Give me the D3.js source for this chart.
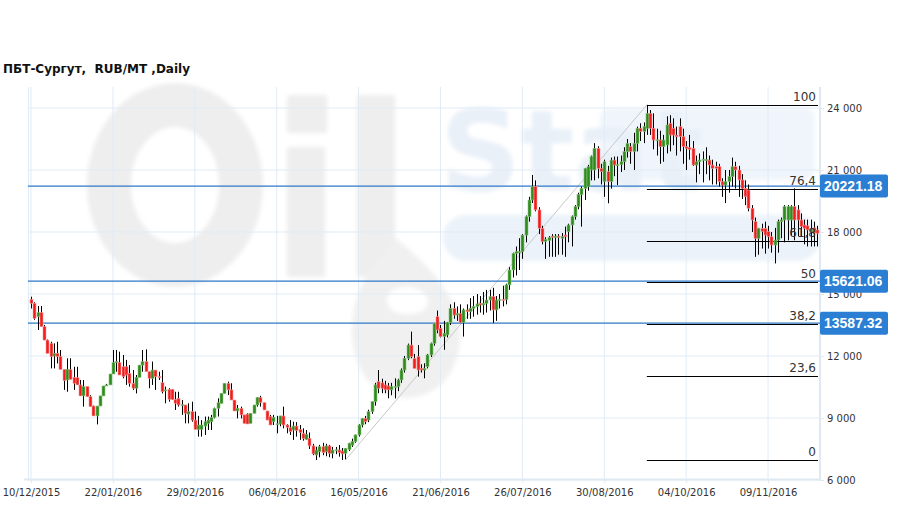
<!DOCTYPE html>
<html>
<head>
<meta charset="utf-8">
<script src="https://cdn.jsdelivr.net/npm/d3@7/dist/d3.min.js"></script>
<style>
  html, body { margin: 0; padding: 0; background: #fff; }
  svg { display: block; }
</style>
</head>
<body>
<svg id="chart" width="909" height="509"></svg>
<script>
// ---------------- DATA ----------------
const title = "ПБТ-Сургут,  RUB/MT ,Daily";

const openVals = [
14740,14550,13900,14100,13420,12770,12610,12000,12130,11970,
11350,10840,11350,10970,10950,10600,10070,10520,10030,9580,
9100,9580,10070,10550,10600,11130,11680,11680,11480,11480,
11160,10680,10440,10970,11560,11730,11240,10920,11320,11000,
10710,10320,10390,10390,9900,9950,9630,9630,9190,9310,
8900,8450,8450,8610,8740,8820,9030,9470,9710,10190,
10680,10360,9870,9340,9470,9150,9190,8740,9230,9630,
10000,9740,9340,9070,8820,8710,8710,9100,8660,8530,
8420,8610,8450,8260,7970,8020,7650,7210,7370,7610,
7370,7650,7290,7450,7450,7400,7290,7480,7690,7860,
8180,8660,8980,8900,9310,9790,10760,10700,10600,10550,
10360,10500,10520,10840,11320,11890,12530,11890,11970,11400,
11320,11480,12050,12610,13900,13340,12940,13020,13610,14300,
13980,14060,13610,14230,14150,14310,14390,14550,14470,14550,
14710,14870,14230,14720,14740,14740,15440,16160,16970,17000,
17050,17850,18740,19550,20200,19070,18180,17550,17600,17800,
17740,17800,17700,17850,18020,18340,18740,19230,19800,20110,
20200,21000,21000,22050,21080,20440,20920,20440,21480,21240,
21260,21400,21890,22130,21890,22290,23020,22860,23020,23740,
23020,22450,22450,22130,22210,23260,23020,22690,23100,22610,
22130,22080,22050,21240,21400,21490,21480,21480,21240,21160,
21160,20440,20270,20440,20680,21160,21000,20520,20110,20030,
19150,18500,17690,18180,18180,18020,17770,17370,17610,18500,
18580,18580,18580,19230,19070,18580,18340,18300,18000,18200,
18100];

const highVals = [
14870,14600,14420,14420,13500,12800,12690,12610,12690,12290,
11350,11890,11890,11480,11480,10840,10840,10520,10100,9600,
9580,10070,10550,10650,11130,12290,12290,12210,12050,11810,
11560,11320,11080,11560,12290,12320,11240,11730,11320,11240,
11320,10520,10440,10390,10270,10270,9870,9630,9710,9790,
9310,9100,8900,9070,9070,9150,9500,9950,10190,10680,
10760,10680,9870,9630,9550,9150,9230,9230,9630,10000,
10070,9740,9340,9150,9150,9100,9100,9550,8700,8900,
8820,8800,8660,8500,8420,8300,7750,7610,7700,7800,
7750,7700,7600,7600,7690,7550,7550,7800,8000,8200,
8700,9000,9100,9400,9800,10700,11320,10900,10800,10700,
10700,10920,10900,11400,12000,12600,13180,12100,12530,11600,
11650,12100,12650,13600,14200,13500,13700,13650,14500,14600,
14400,14500,14300,14500,14800,14900,15000,14900,15100,15200,
15200,15300,14900,15000,15400,15500,16300,17000,17300,17700,
17900,18800,19700,20760,20500,19200,18300,17750,17800,17900,
17900,17900,17950,18260,18400,18800,19300,19900,20200,21100,
21250,21700,22300,22150,21300,21500,21200,21600,21650,21650,
21700,22100,22500,22300,22800,23100,23260,23300,24150,23900,
23740,23000,22900,22700,23600,23650,23500,23100,23500,23000,
22400,22700,22400,21700,21800,21900,22100,21700,21500,21400,
21300,20600,21000,21000,21600,21400,21200,20800,20500,20300,
19300,18700,18200,18400,18500,18300,18000,18200,18600,18700,
19300,19300,19300,20110,19300,18900,18600,18600,18600,18500,
18300];

const lowVals = [
14300,13750,13260,13420,12770,12130,11400,11400,11640,11350,
10360,10270,10870,10360,10600,10070,9550,10030,9550,9100,
8690,9580,10070,10550,10600,11130,11240,11080,10920,10600,
10520,10360,10190,10970,11240,11240,10440,10600,10360,10840,
10190,9710,9790,9870,9390,9550,9150,8740,8740,8820,
8450,8100,8100,8180,8420,8420,8980,9070,9710,10190,
10110,9870,9340,8980,8980,8740,8710,8740,9230,9550,
9550,9390,8900,8660,8660,8260,8600,8500,8260,8180,
7940,8100,7940,7900,7940,7500,7200,6970,7100,7200,
7150,7100,7050,7250,7130,6970,7000,7400,7600,7800,
8100,8550,8700,8800,9200,9600,10200,10200,10200,9950,
10100,9950,10300,10700,11200,11800,11890,11400,11000,11200,
10920,11400,11950,12500,13100,12900,12300,12900,13500,13800,
13700,13600,12940,13800,13800,13900,14000,14100,14000,14100,
14200,13600,13700,14300,14400,14500,15200,15800,15900,16160,
16700,17500,18500,19400,19000,17900,17400,16700,16800,16800,
16800,16900,16900,16800,17500,17300,18600,19100,18260,19550,
20000,20500,20500,20600,20300,19700,19390,20100,20700,20270,
20900,21000,21600,21300,21000,21900,22400,22300,22700,22700,
22000,21700,21300,21400,21800,21900,22200,21700,21900,21300,
21000,21500,21200,20400,20800,20400,20800,20500,20300,20300,
20200,19700,19400,19900,20200,20100,19700,19600,19300,19000,
18000,16800,16900,17200,16950,17200,17000,16480,17000,17700,
17500,17600,17800,17600,17800,17800,17400,17300,17300,17300,
17300];

const closeVals = [
14550,13820,14100,13420,12770,12130,11970,12130,11970,11350,
10810,11360,10870,10680,10600,10070,10520,10030,9550,9100,
9580,10070,10550,10600,11130,11680,11730,11080,11000,11080,
10680,10440,10970,11560,11730,11240,10920,11320,11000,10970,
10270,10360,9900,9900,9710,9630,9650,9230,9310,8900,
8450,8660,8660,8820,8900,9030,9470,9740,10190,10680,
10360,9870,9340,9470,9150,8740,8710,9230,9630,10000,
9740,9390,8900,8660,9030,8720,9100,8660,8550,8340,
8610,8390,8290,8000,8210,7650,7260,7450,7610,7320,
7650,7290,7450,7460,7320,7260,7530,7780,7860,8180,
8660,8980,8820,9310,9790,10600,10440,10440,10360,10360,
10520,10530,10840,11320,11890,12530,11970,11400,11320,11320,
11400,12050,12610,13580,13260,12940,13100,13610,14300,13980,
14060,13610,14230,14150,14310,14390,14520,14470,14550,14710,
14870,14230,14710,14740,14730,15440,16160,16970,17050,17050,
17850,18740,19550,20200,19070,18180,17540,17650,17740,17740,
17800,17740,17780,17770,18340,18740,19230,19820,20110,21080,
21160,21650,22050,21080,20920,21400,20440,21480,21240,21260,
21400,21890,22290,21890,22290,23020,22860,23100,23740,23020,
22450,22460,22130,22450,23180,22690,22690,22610,22610,22130,
22050,22000,21240,21400,21480,21520,21500,21240,21080,21080,
20440,20270,20440,20680,21160,21000,20520,20110,19710,19150,
18580,17690,18180,18020,17850,17770,17370,17610,18500,18580,
19230,19230,19230,18580,18580,18260,18180,18100,18150,17950,
17940];

const tickIndex  = [0, 25, 50, 75, 100, 125, 150, 175, 200, 225];
const tickLabels = ["10/12/2015","22/01/2016","29/02/2016","06/04/2016","16/05/2016",
                    "21/06/2016","26/07/2016","30/08/2016","04/10/2016","09/11/2016"];
const yTicks = [6000, 9000, 12000, 15000, 18000, 21000, 24000];

const levelValues = [20221.18, 15621.06, 13587.32];
const fibRatios = [100, 76.4, 61.8, 50, 38.2, 23.6, 0];
const fibLabels = ["100", "76,4", "61,8", "50", "38,2", "23,6", "0"];
const fibLowIndex = 96, fibHighIndex = 188;

// ---------------- CHART ----------------
const svg = d3.select("#chart");
const W = 909, H = 509;
const plot = { left: 28, right: 820, top: 87, bottom: 480 };

const x = d3.scaleLinear().domain([0, openVals.length - 1]).range([31, 817.2]);
const y = d3.scaleLinear().domain([6000, 24000]).range([480, 108]);

svg.append("rect").attr("width", W).attr("height", H).attr("fill", "#fff");

const defs = svg.append("defs");
defs.append("filter").attr("id", "soft").attr("x", "-10%").attr("y", "-10%").attr("width", "120%").attr("height", "120%")
  .append("feGaussianBlur").attr("stdDeviation", 2.2);

// watermark
const wm = svg.append("g").attr("class", "watermark").attr("filter", "url(#soft)");
wm.append("ellipse").attr("cx", 175).attr("cy", 185).attr("rx", 66).attr("ry", 80)
  .attr("fill", "none").attr("stroke", "#eeeeee").attr("stroke-width", 44);
wm.append("rect").attr("x", 287).attr("y", 95).attr("width", 40).attr("height", 38).attr("rx", 3).attr("fill", "#eeeeee");
wm.append("rect").attr("x", 287).attr("y", 147).attr("width", 38).attr("height", 130).attr("rx", 3).attr("fill", "#eeeeee");
wm.append("rect").attr("x", 357).attr("y", 95).attr("width", 38).attr("height", 182).attr("rx", 3).attr("fill", "#eeeeee");
wm.append("path")
  .attr("d", "M395,238 C380,255 352,285 352,330 C352,372 375,398 405,398 C438,398 460,372 460,335 C460,295 425,262 395,238 Z M407,287 C422,287 428,296 428,302 C428,310 420,314 407,314 C394,314 387,308 387,300 C387,292 395,287 407,287 Z")
  .attr("fill", "#f0f0f0").attr("fill-rule", "evenodd");
wm.append("rect").attr("x", 600).attr("y", 108).attr("width", 215).attr("height", 72).attr("rx", 10).attr("fill", "#f0f5fb");
wm.append("text").attr("x", 440).attr("y", 190)
  .attr("font-family", "DejaVu Sans").attr("font-weight", "bold").attr("font-size", 112)
  .attr("fill", "#e9f0f8").text("Stat");
wm.append("rect").attr("x", 443).attr("y", 215).attr("width", 377).attr("height", 46).attr("rx", 23).attr("fill", "#ebf2f9");

// grid
const grid = svg.append("g");
grid.selectAll("line.h").data(yTicks).join("line")
  .attr("x1", plot.left).attr("x2", plot.right)
  .attr("y1", d => y(d)).attr("y2", d => y(d))
  .attr("stroke", "#e1ebf5").attr("stroke-width", 1);
grid.selectAll("line.v").data(tickIndex).join("line")
  .attr("x1", d => x(d)).attr("x2", d => x(d))
  .attr("y1", plot.top).attr("y2", plot.bottom)
  .attr("stroke", "#e1ebf5").attr("stroke-width", 1);

svg.append("line").attr("x1", plot.left + 0.5).attr("x2", plot.left + 0.5)
  .attr("y1", plot.top).attr("y2", plot.bottom).attr("stroke", "#e1ebf5");

// axes
const yAxis = d3.axisRight(y).tickValues(yTicks).tickSize(4).tickPadding(3)
  .tickFormat(d => d3.format(",")(d).replace(/,/g, " "));
const yg = svg.append("g").attr("transform", `translate(${plot.right},0)`).call(yAxis);
yg.select(".domain").remove();
yg.append("line").attr("x1", 0).attr("x2", 0).attr("y1", plot.top).attr("y2", plot.bottom + 1)
  .attr("stroke", "#dfe9f3").attr("stroke-width", 2);
yg.selectAll(".tick line").attr("stroke", "#dfe9f3");
yg.selectAll(".tick text").attr("font-family", "DejaVu Sans").attr("font-size", 10).attr("fill", "#333");

const xAxis = d3.axisBottom(x).tickValues(tickIndex).tickSize(3).tickPadding(6)
  .tickFormat((d, i) => tickLabels[i]);
const xg = svg.append("g").attr("transform", `translate(0,${plot.bottom})`).call(xAxis);
xg.select(".domain").remove();
xg.append("line").attr("x1", plot.left - 4).attr("x2", plot.right).attr("y1", -0.5).attr("y2", -0.5)
  .attr("stroke", "#dfe9f3").attr("stroke-width", 2);
xg.selectAll(".tick line").attr("stroke", "#dfe9f3");
xg.selectAll(".tick text").attr("font-family", "DejaVu Sans").attr("font-size", 10).attr("fill", "#333");

// fib
const lowVal = d3.min(lowVals), highVal = d3.max(highVals);
const fibVal = r => lowVal + (highVal - lowVal) * r / 100;

svg.append("line")
  .attr("x1", x(fibLowIndex)).attr("y1", y(lowVal))
  .attr("x2", x(fibHighIndex)).attr("y2", y(highVal))
  .attr("stroke", "#c8c8c8").attr("stroke-width", 1);

svg.selectAll("line.level").data(levelValues).join("line")
  .attr("x1", plot.left).attr("x2", plot.right)
  .attr("y1", d => y(d)).attr("y2", d => y(d))
  .attr("stroke", "#2f78c8").attr("stroke-width", 1.2);

svg.selectAll("line.fib").data(fibRatios).join("line")
  .attr("x1", x(fibHighIndex)).attr("x2", 818)
  .attr("y1", d => Math.round(y(fibVal(d))) + 0.5).attr("y2", d => Math.round(y(fibVal(d))) + 0.5)
  .attr("stroke", "#000").attr("stroke-width", 1);

// candles
const n = openVals.length;
const idx = d3.range(n);
const cg = svg.append("g");
cg.selectAll("line.wick").data(idx).join("line")
  .attr("x1", i => Math.round(x(i)) + 0.5).attr("x2", i => Math.round(x(i)) + 0.5)
  .attr("y1", i => y(highVals[i])).attr("y2", i => y(lowVals[i]))
  .attr("stroke", "#000").attr("stroke-width", 1);
cg.selectAll("rect.body").data(idx).join("rect")
  .attr("x", i => Math.round(x(i)) - 1)
  .attr("width", 3)
  .attr("y", i => y(Math.max(openVals[i], closeVals[i])))
  .attr("height", i => Math.max(1, Math.abs(y(openVals[i]) - y(closeVals[i]))))
  .attr("fill", i => closeVals[i] > openVals[i] ? "#2e8a1e" : (closeVals[i] < openVals[i] ? "#f01c1c" : "#000"))
  .attr("stroke", i => closeVals[i] > openVals[i] ? "#8cc47e" : (closeVals[i] < openVals[i] ? "#f7a0a0" : "none"))
  .attr("stroke-width", 0.6);

// fib labels
svg.selectAll("text.fib").data(fibRatios).join("text")
  .attr("x", 816).attr("y", d => y(fibVal(d)) - 4)
  .attr("text-anchor", "end")
  .attr("font-family", "DejaVu Sans").attr("font-size", 12).attr("fill", "#333")
  .text((d, i) => fibLabels[i]);

// level labels
const lg = svg.selectAll("g.lvl").data(levelValues).join("g")
  .attr("transform", d => `translate(820,${y(d)})`);
lg.append("rect").attr("x", 0).attr("y", -11.5).attr("width", 68).attr("height", 23).attr("rx", 2)
  .attr("fill", "#2a7fd4");
lg.append("text").attr("x", 4).attr("y", 5)
  .attr("font-family", "Liberation Sans").attr("font-weight", "bold").attr("font-size", 14)
  .attr("fill", "#fff").text(d => d.toFixed(2));

// title
svg.append("text").attr("x", 3).attr("y", 73)
  .attr("font-family", "DejaVu Sans").attr("font-weight", "bold").attr("font-size", 12)
  .attr("fill", "#111").attr("xml:space", "preserve").style("white-space", "pre")
  .text(title);
</script>
</body>
</html>
